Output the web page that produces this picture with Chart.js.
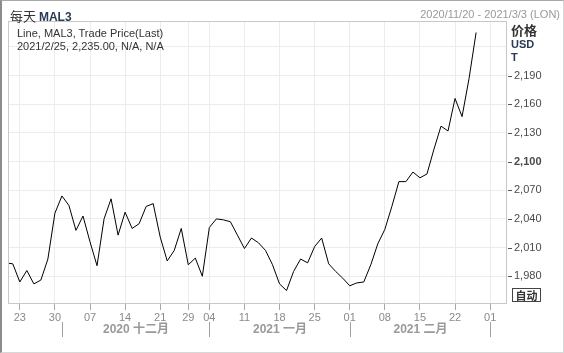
<!DOCTYPE html>
<html>
<head>
<meta charset="utf-8">
<script src="https://cdn.jsdelivr.net/npm/chart.js@4"></script>
<style>
  html, body { margin: 0; padding: 0; background: #fff; }
  #wrap {
    position: relative; width: 564px; height: 353px; box-sizing: border-box;
    border-left: 2px solid #8c8c8c; border-top: 1px solid #a8a8a8;
    border-right: 1px solid #d8d8d8; border-bottom: 1px solid #d8d8d8;
    overflow: hidden; font-family: 'Liberation Sans', 'Noto Sans CJK SC', sans-serif;
  }
  #chart { position: absolute; left: -2px; top: -1px; }
  .txt { position: absolute; white-space: nowrap; }
  #title { left: 8px; top: 5px; font-size: 13px; color: #333; font-family: 'Noto Sans CJK SC', sans-serif; }
  #title b { color: #2b3a55; font-family: 'Liberation Sans', sans-serif; font-size: 12px; }
  #range { right: 3px; top: 7px; font-size: 11px; color: #9a9a9a; }
  .legend { left: 15px; font-size: 11px; color: #333; }
  .unit { left: 509px; font-weight: bold; color: #2b3a55; font-size: 11px; }
  #auto {
    position: absolute; left: 510px; top: 287px; width: 27px; height: 12px;
    border: 1px solid #444; font: bold 11px 'Noto Sans CJK SC', sans-serif;
    line-height: 12px; text-align: center; color: #333;
  }
</style>
</head>
<body>
<div id="wrap">
  <canvas id="chart" width="564" height="353"></canvas>
  <div class="txt" id="title">每天 <b>MAL3</b></div>
  <div class="txt" id="range">2020/11/20 - 2021/3/3 (LON)</div>
  <div class="txt legend" style="top:26px">Line, MAL3, Trade Price(Last)</div>
  <div class="txt legend" style="top:39px">2021/2/25, 2,235.00, N/A, N/A</div>
  <div class="txt unit" style="top:19px;color:#333;font-size:13px;font-family:'Noto Sans CJK SC',sans-serif">价格</div>
  <div class="txt unit" style="top:37px">USD</div>
  <div class="txt unit" style="top:50px">T</div>
  <div id="auto">自动</div>
</div>
<script>
// trading days (LME), Mar 1-3 have no data yet
const tradeDays = [
  '2020-11-19','2020-11-20',
  '2020-11-23','2020-11-24','2020-11-25','2020-11-26','2020-11-27',
  '2020-11-30','2020-12-01','2020-12-02','2020-12-03','2020-12-04',
  '2020-12-07','2020-12-08','2020-12-09','2020-12-10','2020-12-11',
  '2020-12-14','2020-12-15','2020-12-16','2020-12-17','2020-12-18',
  '2020-12-21','2020-12-22','2020-12-23','2020-12-24',
  '2020-12-29','2020-12-30','2020-12-31',
  '2021-01-04','2021-01-05','2021-01-06','2021-01-07','2021-01-08',
  '2021-01-11','2021-01-12','2021-01-13','2021-01-14','2021-01-15',
  '2021-01-18','2021-01-19','2021-01-20','2021-01-21','2021-01-22',
  '2021-01-25','2021-01-26','2021-01-27','2021-01-28','2021-01-29',
  '2021-02-01','2021-02-02','2021-02-03','2021-02-04','2021-02-05',
  '2021-02-08','2021-02-09','2021-02-10','2021-02-11','2021-02-12',
  '2021-02-15','2021-02-16','2021-02-17','2021-02-18','2021-02-19',
  '2021-02-22','2021-02-23','2021-02-24','2021-02-25','2021-02-26',
  '2021-03-01','2021-03-02','2021-03-03'
];

const prices = [
  1994, 1993,
  1974, 1986, 1972, 1976, 1998,
  2046, 2064, 2054, 2028, 2043,
  2016, 1991, 2040, 2061, 2023,
  2047, 2030, 2035, 2053, 2056,
  2021, 1996, 2007, 2030,
  1992, 1999, 1980,
  2031, 2040, 2039, 2037, 2023,
  2009, 2020, 2015, 2007, 1992,
  1972, 1965, 1985, 1998, 1994,
  2011, 2020, 1993, 1985, 1978,
  1970, 1973, 1974, 1992, 2014,
  2029, 2053, 2079, 2079, 2089,
  2083, 2087, 2113, 2137, 2132,
  2166, 2147, 2187, 2235
];

const weekStarts = ['2020-11-23','2020-11-30','2020-12-07','2020-12-14','2020-12-21','2020-12-29',
  '2021-01-04','2021-01-11','2021-01-18','2021-01-25','2021-02-01','2021-02-08','2021-02-15',
  '2021-02-22','2021-03-01'];
const xTickLabels = ['23','30','07','14','21','29','04','11','18','25','01','08','15','22','01'];

const monthStarts = ['2020-12-01','2021-01-04','2021-02-01','2021-03-01'];
const monthLabels = ['2020 十二月','2021 一月','2021 二月'];

const yTicks = [1980, 2010, 2040, 2070, 2100, 2130, 2160, 2190, 2220];
const yLabels = ['1,980','2,010','2,040','2,070','2,100','2,130','2,160','2,190',''];

Chart.defaults.font.family = "'Liberation Sans', 'Noto Sans CJK SC', sans-serif";

const extras = {
  id: 'extras',
  afterDraw(chart) {
    const { ctx, chartArea: a } = chart;
    const xs = chart.scales.x, ys = chart.scales.y;
    ctx.save();
    // plot frame
    ctx.strokeStyle = '#c8c8c8';
    ctx.lineWidth = 1;
    ctx.strokeRect(a.left - 0.5, a.top - 0.5, a.right - a.left + 1, a.bottom - a.top + 1);
    // y tick dashes
    ctx.strokeStyle = '#555';
    yTicks.forEach((v, i) => {
      if (!yLabels[i]) return;
      const y = Math.round(ys.getPixelForValue(v)) + 0.5;
      ctx.beginPath();
      ctx.moveTo(a.right + 2, y);
      ctx.lineTo(a.right + 6, y);
      ctx.stroke();
    });
    // month separators + labels
    ctx.strokeStyle = '#a0a0a0';
    const px = monthStarts.map(d => Math.round(xs.getPixelForValue(tradeDays.indexOf(d))) + 0.5);
    px.forEach(x => {
      ctx.beginPath();
      ctx.moveTo(x, 322);
      ctx.lineTo(x, 337);
      ctx.stroke();
    });
    ctx.fillStyle = '#999';
    ctx.font = "bold 12px 'Liberation Sans', 'Noto Sans CJK SC', sans-serif";
    ctx.textAlign = 'center';
    ctx.textBaseline = 'middle';
    monthLabels.forEach((t, i) => ctx.fillText(t, (px[i] + px[i + 1]) / 2, 330));
    ctx.restore();
  }
};

new Chart(document.getElementById('chart'), {
  type: 'line',
  data: {
    datasets: [{
      data: prices.map((p, i) => ({ x: i, y: p })),
      borderColor: '#000',
      borderWidth: 1,
      pointRadius: 0,
      tension: 0
    }]
  },
  options: {
    responsive: false,
    animation: false,
    layout: { padding: { left: 9, top: 22, right: 0, bottom: 0 } },
    plugins: { legend: { display: false }, tooltip: { enabled: false } },
    scales: {
      x: {
        type: 'linear',
        min: 0.46,
        max: 71.26,
        afterBuildTicks: s => { s.ticks = weekStarts.map(d => ({ value: tradeDays.indexOf(d) })); },
        afterFit: s => { s.height = 50; },
        border: { display: false },
        grid: { color: '#ececec', tickColor: '#aaa', tickLength: 7 },
        ticks: {
          autoSkip: false, maxRotation: 0, padding: 1,
          color: '#8a8a8a', font: { size: 11 },
          callback: (v, i) => xTickLabels[i]
        }
      },
      y: {
        position: 'right',
        min: 1952,
        max: 2246,
        afterBuildTicks: s => { s.ticks = yTicks.map(v => ({ value: v })); },
        afterFit: s => { s.width = 58; },
        border: { display: false },
        grid: { color: '#ececec', drawTicks: false },
        ticks: {
          padding: 8,
          color: '#4a4a4a',
          font: c => ({ size: 11, weight: c.tick && c.tick.value === 2100 ? 'bold' : 'normal' }),
          callback: (v, i) => yLabels[i]
        }
      }
    }
  },
  plugins: [extras]
});
</script>
</body>
</html>
